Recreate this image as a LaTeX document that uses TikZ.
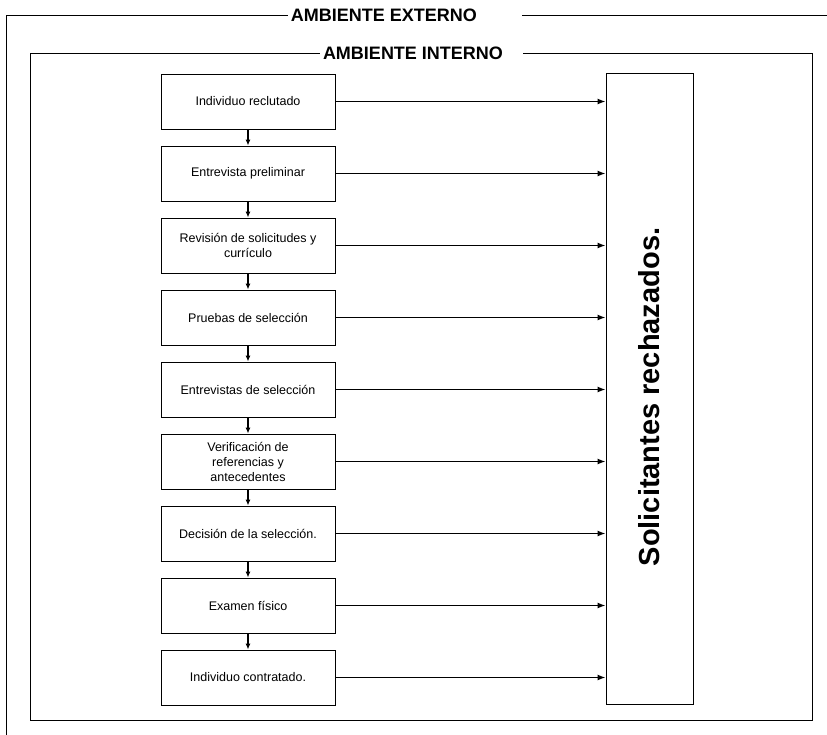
\documentclass[tikz,border=0pt]{standalone}
\usepackage{fontspec}
\setmainfont{Liberation Sans}
\usepackage{graphicx}
\usepackage{tikz}
\usetikzlibrary{
    arrows,
    arrows.meta,
    calc,
    positioning
}
\tikzset{
    paso/.style={draw, line width=0.9pt, minimum width=174pt, minimum height=55pt,
        align=center, inner sep=2pt, font=\fontsize{12.5}{15}\selectfont},
    titulo/.style={font=\fontsize{18}{20}\selectfont\bfseries, inner sep=3pt},
    marco/.style={line width=0.9pt},
    flecha/.style={line width=1.2pt, -{Latex[length=8pt, width=6pt]}},
    bajada/.style={line width=1.1pt, -{Latex[length=6pt, width=5pt]}}
}

\begin{document}
\begin{tikzpicture}[x=1pt, y=-1pt]
    \useasboundingbox[fill=white] (0, 0) rectangle (827, 735);
    % ambiente externo
    \node[titulo] (ext) at (384, 15) {AMBIENTE EXTERNO};
    \coordinate (extizq) at (6, 15);
    \coordinate (extder) at (522, 15);
    \draw[marco] (ext.west) -- (extizq) -- (6, 745);
    \draw[marco] (extder) -- (840, 15);
    % ambiente interno
    \node[titulo] (int) at (413, 53) {AMBIENTE INTERNO};
    \coordinate (intder) at (523, 53);
    \draw[marco] (int.west) -- (30, 53) -- (30, 720) -- (812, 720) -- (812, 53) -- (intder);
    % pasos
    \node[paso] (p1) at (248, 101.5) {Individuo reclutado};
    \node[paso] (p2) at (248, 173.5) {Entrevista preliminar};
    \node[paso] (p3) at (248, 245.5) {Revisión de solicitudes y\\ currículo};
    \node[paso] (p4) at (248, 317.5) {Pruebas de selección};
    \node[paso] (p5) at (248, 389.5) {Entrevistas de selección};
    \node[paso] (p6) at (248, 461.5) {Verificación de\\ referencias y\\ antecedentes};
    \node[paso] (p7) at (248, 533.5) {Decisión de la selección.};
    \node[paso] (p8) at (248, 605.5) {Examen físico};
    \node[paso] (p9) at (248, 677.5) {Individuo contratado.};
    % rechazados
    \node[draw, line width=1pt, minimum width=87pt, minimum height=630pt,
        font=\fontsize{29}{31}\selectfont\bfseries] (rech) at (649.5, 389)
        {\rotatebox{90}{\hspace*{-16pt}Solicitantes rechazados.}};
    % flechas
    \draw[bajada] (p1) -- (p2);
    \draw[bajada] (p2) -- (p3);
    \draw[bajada] (p3) -- (p4);
    \draw[bajada] (p4) -- (p5);
    \draw[bajada] (p5) -- (p6);
    \draw[bajada] (p6) -- (p7);
    \draw[bajada] (p7) -- (p8);
    \draw[bajada] (p8) -- (p9);
    \draw[flecha] (p1.east) -- (p1.east -| rech.west);
    \draw[flecha] (p2.east) -- (p2.east -| rech.west);
    \draw[flecha] (p3.east) -- (p3.east -| rech.west);
    \draw[flecha] (p4.east) -- (p4.east -| rech.west);
    \draw[flecha] (p5.east) -- (p5.east -| rech.west);
    \draw[flecha] (p6.east) -- (p6.east -| rech.west);
    \draw[flecha] (p7.east) -- (p7.east -| rech.west);
    \draw[flecha] (p8.east) -- (p8.east -| rech.west);
    \draw[flecha] (p9.east) -- (p9.east -| rech.west);
\end{tikzpicture}
\end{document}
